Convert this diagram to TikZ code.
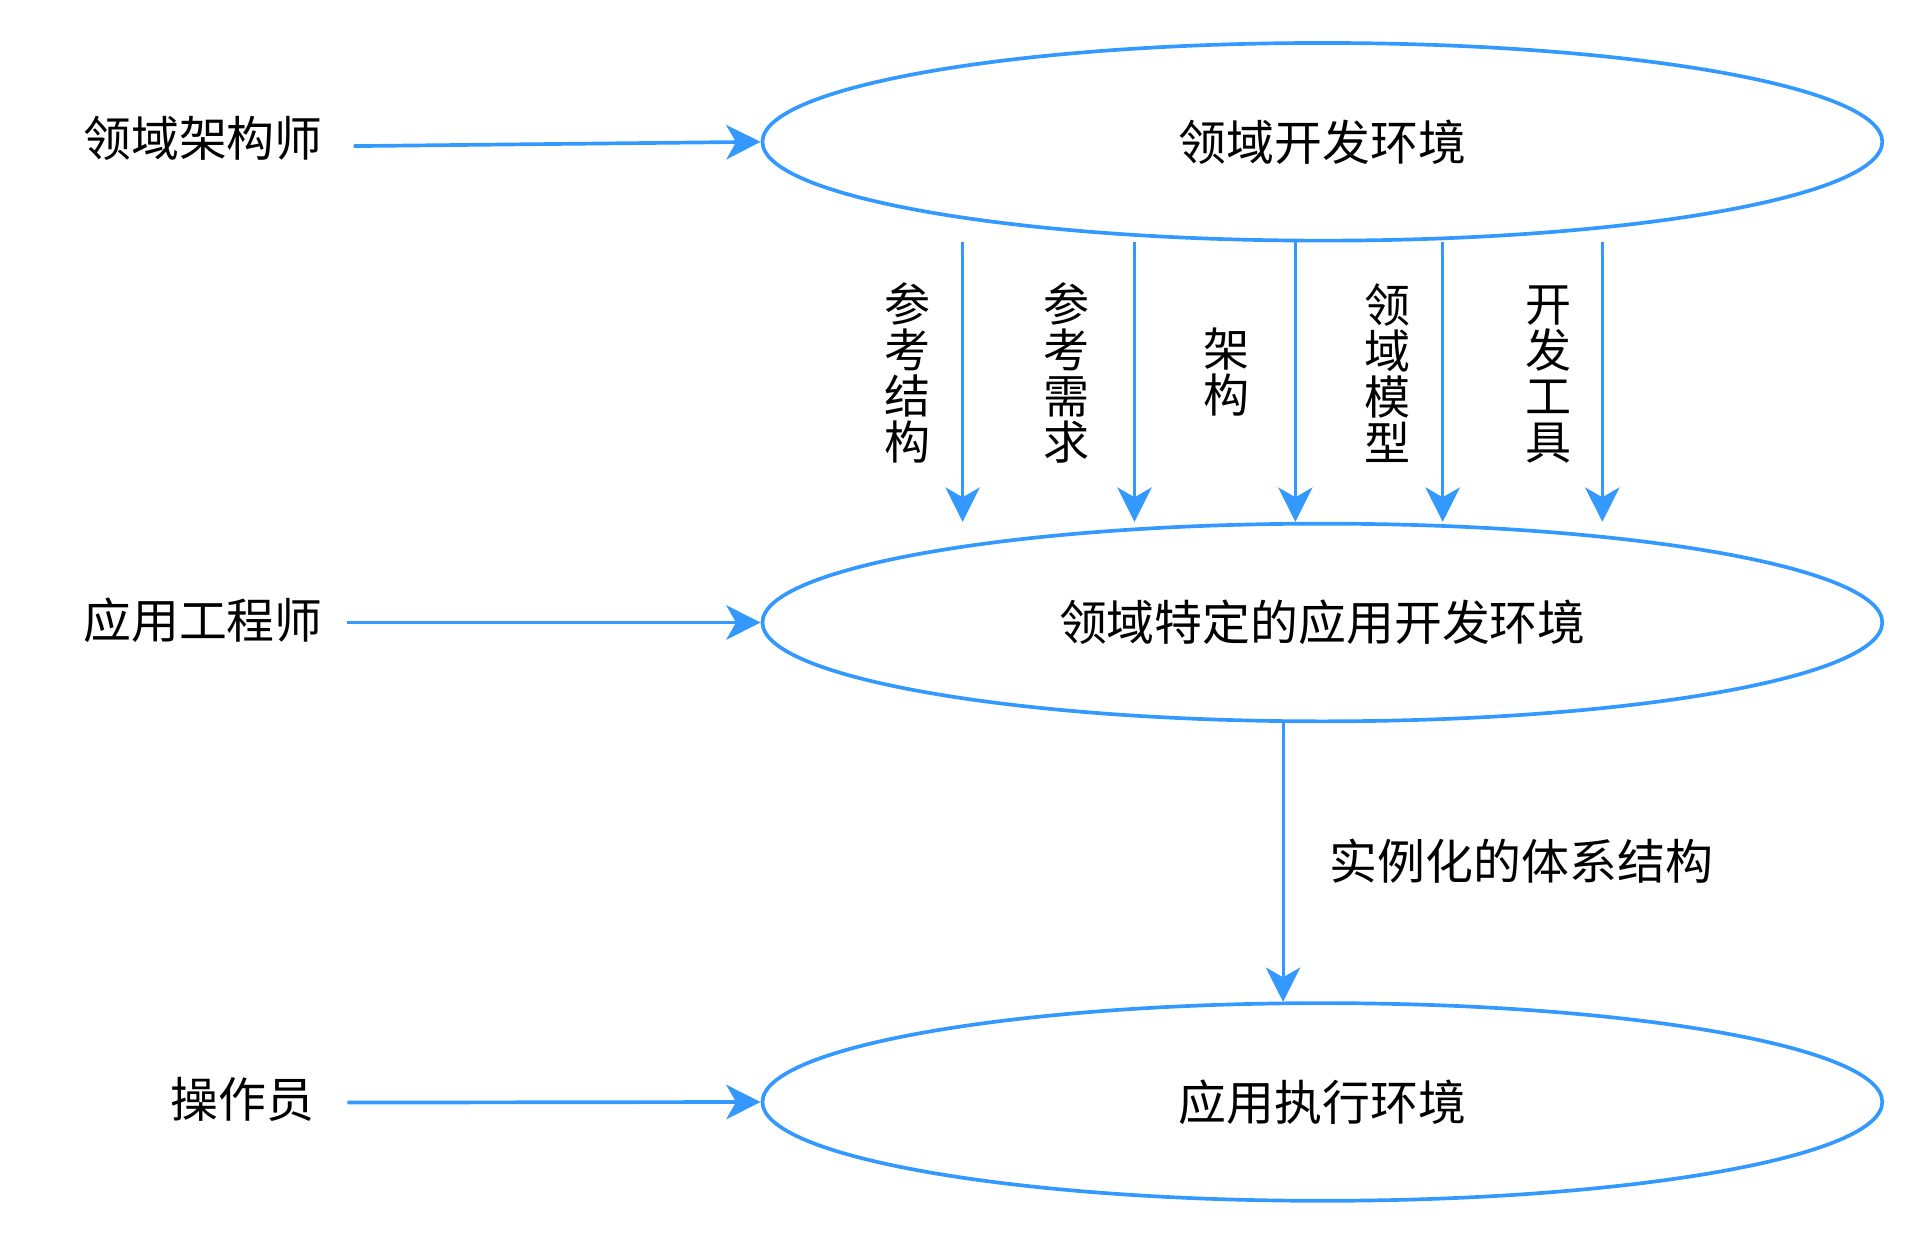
\documentclass[tikz,border=0pt]{standalone}
\usepackage{fontspec}
\setmainfont{Noto Sans CJK SC}
\usetikzlibrary{arrows.meta}
\definecolor{cblue}{RGB}{51,153,255}
\tikzset{
  env/.style={draw=cblue, line width=3pt, ellipse, minimum width=912pt, minimum height=161pt, inner sep=0pt},
  lbl/.style={font=\fontsize{39}{39}\selectfont, inner sep=0pt},
  vlbl/.style={font=\fontsize{37.5}{37.5}\selectfont, inner sep=0pt, align=center},
  flow/.style={draw=cblue, line width=3pt, -{Stealth[length=28pt,width=28pt,inset=8pt]}},
  vflow/.style={draw=cblue, line width=2.5pt, -{Stealth[length=28pt,width=28pt,inset=8pt]}},
}
\usetikzlibrary{shapes.geometric}
\begin{document}
\begin{tikzpicture}[x=1pt,y=-1pt]
\useasboundingbox (0,0) rectangle (1567,1013.2);
\node[env] (e1) at (1077,115.5) {};
\node[env] (e2) at (1077,507) {};
\node[env] (e3) at (1077,897.5) {};
\node[lbl] at (e1) {领域开发环境};
\node[lbl] at (e2) {领域特定的应用开发环境};
\node[lbl] at (e3) {应用执行环境};

\node[lbl, anchor=east] (a1) at (263,113) {领域架构师};
\node[lbl, anchor=east] (a2) at (263,505) {应用工程师};
\node[lbl, anchor=east] (a3) at (256,895) {操作员};
\coordinate (s1) at (288,119);
\coordinate (s2) at (283,507);
\coordinate (s3) at (283,898);
\draw[flow] (s1) -- (e1.west);
\draw[flow] (s2) -- (e2.west);
\draw[flow] (s3) -- (e3.west);

\foreach \x/\n in {784/1,924/2,1055/3,1175/4,1305/5}{
  \coordinate (t\n) at (\x,197);
  \coordinate (b\n) at (\x,425);
  \draw[vflow] (t\n) -- (b\n);
}
\node[vlbl] (l1) at (739,304) {参\\考\\结\\构};
\node[vlbl] (l2) at (869,304) {参\\考\\需\\求};
\node[vlbl] (l3) at (999,303) {架\\构};
\node[vlbl] (l4) at (1130,304) {领\\域\\模\\型};
\node[vlbl] (l5) at (1261,305) {开\\发\\工\\具};

\coordinate (d1) at (1045,588);
\coordinate (d2) at (1045,816);
\draw[vflow] (d1) -- (d2);
\node[lbl, anchor=west] (inst) at (1083,701) {实例化的体系结构};
\end{tikzpicture}
\end{document}
